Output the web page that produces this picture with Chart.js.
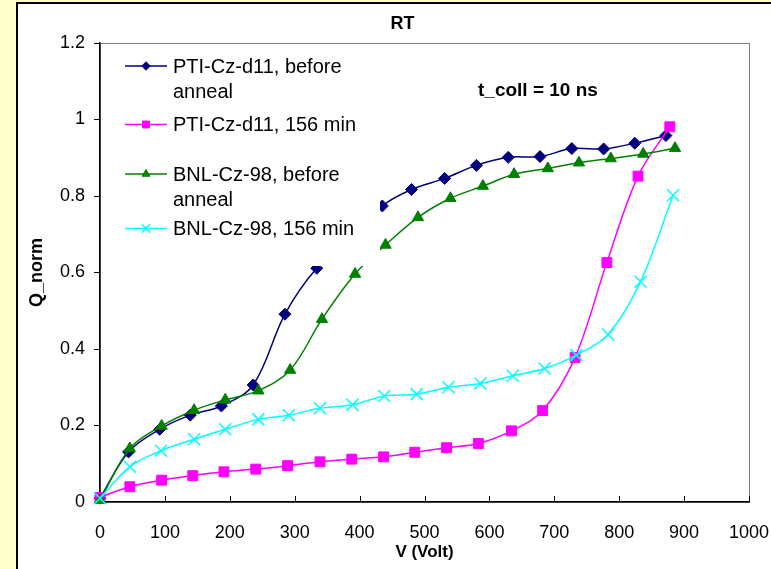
<!DOCTYPE html>
<html>
<head>
<meta charset="utf-8">
<title>RT</title>
<script src="https://cdn.jsdelivr.net/npm/chart.js@4.4.1/dist/chart.umd.min.js"></script>
<style>
  html, body { margin: 0; padding: 0; background: #FFFFCC; }
  #wrap { position: relative; width: 771px; height: 569px; }
</style>
</head>
<body>
<div id="wrap"><canvas id="chart" width="771" height="569"></canvas></div>
<script>
/* Charge collection vs bias, room temperature, before / after 156 min anneal */

var seriesNames = [
  ['PTI-Cz-d11, before', 'anneal'],
  ['PTI-Cz-d11, 156 min'],
  ['BNL-Cz-98, before', 'anneal'],
  ['BNL-Cz-98, 156 min']
];

var ptiBeforeV = [0, 44, 92, 139, 187, 236, 285, 334, 435, 480, 531, 580, 629, 678, 727, 776, 824, 872];
var ptiBeforeQ = [0.01, 0.131, 0.19, 0.227, 0.251, 0.306, 0.491, 0.611, 0.774, 0.817, 0.846, 0.880, 0.901, 0.903, 0.924, 0.923, 0.938, 0.958];

var pti156V = [0, 46, 95, 143, 191, 240, 289, 339, 388, 437, 485, 534, 583, 634, 682, 732, 781, 829, 878];
var pti156Q = [0.012, 0.040, 0.057, 0.069, 0.079, 0.086, 0.095, 0.105, 0.112, 0.118, 0.130, 0.142, 0.153, 0.186, 0.239, 0.378, 0.626, 0.852, 0.981];

var bnlBeforeV = [0, 46, 95, 145, 193, 244, 293, 342, 393, 440, 490, 540, 590, 638, 690, 738, 787, 837, 886];
var bnlBeforeQ = [0.005, 0.140, 0.199, 0.240, 0.267, 0.291, 0.345, 0.478, 0.596, 0.672, 0.744, 0.794, 0.826, 0.857, 0.872, 0.887, 0.898, 0.910, 0.925];

var bnl156V = [0, 46, 94, 145, 193, 244, 291, 339, 389, 438, 488, 537, 586, 636, 685, 734, 783, 833, 883];
var bnl156Q = [0.01, 0.092, 0.134, 0.164, 0.190, 0.216, 0.227, 0.245, 0.254, 0.277, 0.282, 0.300, 0.310, 0.330, 0.349, 0.384, 0.438, 0.576, 0.802];

var titleText = 'RT';
var noteText = 't_coll = 10 ns';
var xTitle = 'V (Volt)';
var yTitle = 'Q_norm';

var FONT = "'Liberation Sans', Arial, sans-serif";

function toPoints(xs, ys) {
  return xs.map(function (x, i) { return { x: x, y: ys[i] }; });
}

function series(idx, xs, ys, color, style, radius, order) {
  return {
    label: seriesNames[idx].join(' '),
    data: toPoints(xs, ys),
    borderColor: color,
    backgroundColor: color,
    borderWidth: 1.5,
    pointStyle: style,
    pointRadius: radius,
    pointHoverRadius: radius,
    pointBorderWidth: style === 'crossRot' ? 1.5 : 1,
    tension: 0.35,
    clip: false,
    order: order
  };
}

/* page frame, plot border and inward x tick marks */
var framePlugin = {
  id: 'frame',
  beforeDraw: function (chart) {
    var ctx = chart.ctx;
    var a = chart.chartArea;
    ctx.save();
    ctx.fillStyle = '#FFFFCC';
    ctx.fillRect(0, 0, chart.width, chart.height);
    ctx.fillStyle = '#FFFFFF';
    ctx.fillRect(17, 3, chart.width, chart.height);
    ctx.strokeStyle = '#000000';
    ctx.lineWidth = 2;
    ctx.strokeRect(17, 3, chart.width + 20, chart.height + 20);

    ctx.strokeStyle = '#808080';
    ctx.lineWidth = 1;
    ctx.strokeRect(a.left + 0.5, a.top + 0.5, a.right - a.left, a.bottom - a.top);
    ctx.restore();
  },
  beforeDatasetsDraw: function (chart) {
    var ctx = chart.ctx;
    var a = chart.chartArea;
    var xs = chart.scales.x;
    ctx.save();
    ctx.strokeStyle = '#000000';
    ctx.lineWidth = 1;
    ctx.beginPath();
    xs.ticks.forEach(function (t) {
      var px = Math.round(xs.getPixelForValue(t.value)) + 0.5;
      ctx.moveTo(px, a.bottom);
      ctx.lineTo(px, a.bottom - 6);
    });
    ctx.stroke();
    ctx.restore();
  }
};

/* legend box on top of the lines, plus title and note */
var legendPlugin = {
  id: 'boxLegend',
  afterDatasetsDraw: function (chart) {
    var ctx = chart.ctx;
    var a = chart.chartArea;
    var rowY = [66, 124.5, 174, 228.5];
    var lineGap = 25.5;
    ctx.save();
    ctx.fillStyle = '#FFFFFF';
    ctx.fillRect(a.left + 1, a.top + 1, 279, 222);

    chart.data.datasets.forEach(function (ds, i) {
      var y = rowY[i];
      ctx.strokeStyle = ds.borderColor;
      ctx.lineWidth = 1.5;
      ctx.beginPath();
      ctx.moveTo(125, y);
      ctx.lineTo(167, y);
      ctx.stroke();

      ctx.fillStyle = ds.backgroundColor;
      ctx.lineWidth = ds.pointBorderWidth;
      Chart.helpers.drawPoint(ctx, {
        pointStyle: ds.pointStyle,
        rotation: 0,
        radius: ds.pointRadius * 0.7,
        borderWidth: ds.pointBorderWidth
      }, 146, y);

      ctx.fillStyle = '#000000';
      ctx.font = '20px ' + FONT;
      ctx.textBaseline = 'middle';
      ctx.textAlign = 'left';
      seriesNames[i].forEach(function (line, k) {
        ctx.fillText(line, 173, y + 1 + k * lineGap);
      });
    });
    ctx.restore();
  },
  afterDraw: function (chart) {
    var ctx = chart.ctx;
    ctx.save();
    ctx.fillStyle = '#000000';
    ctx.textBaseline = 'middle';
    ctx.textAlign = 'center';
    ctx.font = 'bold 18px ' + FONT;
    ctx.fillText(titleText, 402.5, 24.5);
    ctx.textAlign = 'left';
    ctx.font = 'bold 19px ' + FONT;
    ctx.fillText(noteText, 478, 91);
    ctx.restore();
  }
};

var datasets = [
  series(0, ptiBeforeV, ptiBeforeQ, '#000080', 'rectRot', 6, 4),
  series(1, pti156V, pti156Q, '#FF00FF', 'rect', 7, 3),
  series(2, bnlBeforeV, bnlBeforeQ, '#008000', 'triangle', 6.5, 2),
  series(3, bnl156V, bnl156Q, '#00FFFF', 'crossRot', 8.5, 1)
];

Chart.defaults.font.family = FONT;
Chart.defaults.color = '#000000';

new Chart(document.getElementById('chart'), {
  type: 'line',
  data: { datasets: datasets },
  plugins: [framePlugin, legendPlugin],
  options: {
    responsive: false,
    animation: false,
    events: [],
    layout: { padding: { left: 17, right: 22, top: 43, bottom: 0 } },
    plugins: {
      legend: { display: false },
      title: { display: false },
      tooltip: { enabled: false }
    },
    scales: {
      x: {
        type: 'linear',
        min: 0,
        max: 1000,
        ticks: {
          stepSize: 100,
          padding: 20,
          font: { size: 18 },
          color: '#000',
          maxRotation: 0,
          callback: function (v) { return String(v); }
        },
        grid: { display: true, drawOnChartArea: false, drawTicks: false },
        border: { color: '#000', width: 1.5 },
        title: { display: true, text: xTitle, font: { size: 17, weight: 'bold' }, padding: { top: 0, bottom: 6 } },
        afterFit: function (scale) {
          scale.height = 67;
          scale.paddingLeft = 0;
          scale.paddingRight = 0;
        }
      },
      y: {
        type: 'linear',
        min: 0,
        max: 1.2,
        ticks: {
          stepSize: 0.2,
          padding: 9,
          font: { size: 18 },
          color: '#000',
          callback: function (v) { return String(Number(v.toFixed(1))); }
        },
        grid: { drawOnChartArea: false, drawTicks: true, tickLength: 6, color: '#000' },
        border: { color: '#000', width: 1.5 },
        title: { display: true, text: yTitle, font: { size: 18, weight: 'bold' }, padding: { top: 9, bottom: 0 } },
        afterFit: function (scale) { scale.width = 83; }
      }
    }
  }
});
</script>
</body>
</html>
